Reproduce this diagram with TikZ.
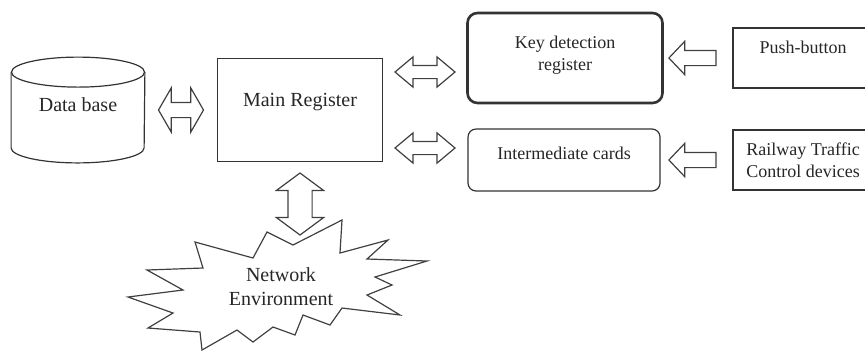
\documentclass[tikz,border=0pt]{standalone}
\usepackage{fontspec}
\setmainfont{Liberation Serif}
\usetikzlibrary{positioning,shapes.geometric,shapes.arrows}

\tikzset{
	box/.style={draw=black!80, line width=0.6pt, text=black!85},
	dblarrow/.style={double arrow, draw=black!75, line width=0.6pt, fill=white, inner xsep=0pt},
	leftarrow/.style={single arrow, draw=black!75, line width=0.6pt, fill=white, inner xsep=0pt, rotate=180,
		minimum height=23.5pt, minimum width=16pt, inner ysep=3.5pt, single arrow head extend=4.5pt, single arrow tip angle=93},
	sidearrow/.style={dblarrow, minimum height=30pt, minimum width=14.5pt, inner ysep=3pt, double arrow head extend=4.25pt, double arrow tip angle=80},
}

\begin{document}
\begin{tikzpicture}[x=0.5pt,y=-0.5pt,on grid]
	\useasboundingbox (0,0) rectangle (865,350);
	\clip (0,0) rectangle (865,350);
	\node[text=black!85,minimum width=66.5pt,minimum height=52.5pt,text depth=5pt] (db) at (78,110) {Data base};
	% data base drum
	\draw[draw=black!80,line width=0.6pt] ([yshift=-7.5pt]db.north west) -- ([yshift=7.5pt]db.south west)
		arc[start angle=180,end angle=360,x radius=33.25pt,y radius=7.5pt] -- ([yshift=-7.5pt]db.north east);
	\draw[draw=black!80,line width=0.6pt] ([yshift=-7.5pt]db.north) ellipse [x radius=33.25pt,y radius=7.5pt];
	\node[dblarrow,minimum height=22.5pt,minimum width=21.5pt,inner ysep=3.5pt,double arrow head extend=7.25pt,double arrow tip angle=120] (dbarr) [right=51.5pt of db] {};
	\node[box,minimum width=82.5pt,minimum height=51.5pt,text depth=10pt] (main) [right=59.5pt of dbarr] {Main Register};
	\node[dblarrow,rotate=90,minimum height=31pt,minimum width=23pt,inner ysep=5.75pt,double arrow head extend=5.75pt,double arrow tip angle=107] (vertarr) [below=47pt of main] {};
	\node[sidearrow] (keyarr) [above right=19pt and 62.5pt of main] {};
	\node[sidearrow] (interarr) [below right=19pt and 62.5pt of main] {};
	\node[box,rounded corners=5pt,line width=1.3pt,minimum width=97.5pt,minimum height=45pt,align=center,font=\small,text depth=5pt] (key) [above right=7pt and 70pt of keyarr] {Key detection\\register};
	\node[box,rounded corners=4pt,minimum width=96pt,minimum height=31pt,font=\small,text depth=7pt] (inter) [below right=6pt and 69.5pt of interarr] {Intermediate cards};
	\node[leftarrow] (pusharr) [right=65.5pt of key] {};
	\node[leftarrow] (railarr) [right=66pt of inter] {};
	\node[box,minimum width=70pt,minimum height=30pt,font=\small,text depth=11pt] (push) [right=53.5pt of pusharr] {Push-button};
	\node[box,minimum width=70pt,minimum height=30pt,font=\small,align=left] (rail) [right=53.5pt of railarr] {Railway Traffic\\Control devices};
	% network cloud
	\draw[draw=black!75,line width=0.6pt,line join=miter]
		(267,232) -- (293,245) -- (342,220) -- (340,253) -- (388,240) -- (367,259)
		-- (427,261) -- (375,277) -- (392,285) -- (367,295) -- (400,315) -- (342,308)
		-- (330,325) -- (303,315) -- (295,335) -- (273,327) -- (253,342) -- (237,330)
		-- (202,350) -- (200,332) -- (148,328) -- (173,313) -- (128,297) -- (183,290)
		-- (147,270) -- (203,268) -- (195,242) -- (253,258) -- cycle;
	\node[align=center,text=black!85] (net) [below left=41.5pt and 9.5pt of vertarr] {Network\\Environment};
\end{tikzpicture}
\end{document}
